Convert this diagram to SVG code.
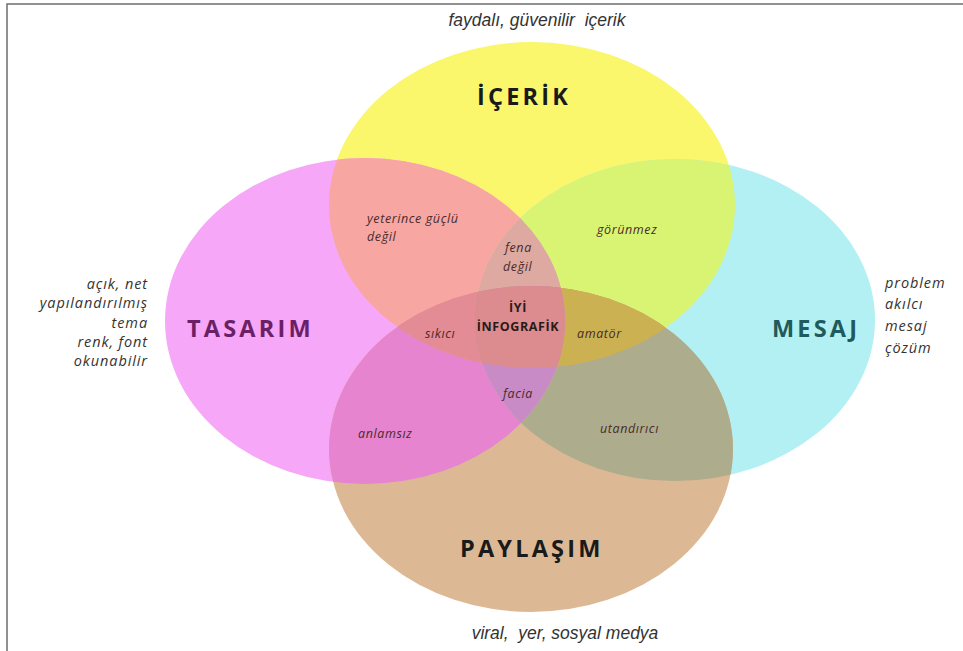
<svg xmlns="http://www.w3.org/2000/svg" xmlns:xlink="http://www.w3.org/1999/xlink" width="963" height="651" viewBox="0 0 963 651">
<style>
.title{font-family:"Open Sans","DejaVu Sans",sans-serif;font-weight:700;font-size:23.5px;letter-spacing:3.2px}
.side{font-family:"Open Sans","DejaVu Sans",sans-serif;font-style:italic;font-size:14.5px;letter-spacing:0.9px;fill:#333}
.desc{font-family:"Liberation Sans","Arial",sans-serif;font-style:italic;font-size:17.5px;fill:#333;white-space:pre}
.inner{font-family:"Open Sans","DejaVu Sans",sans-serif;font-style:italic;font-size:12.5px;letter-spacing:0.6px;fill:#4a2a2a}
.core{font-family:"Open Sans","DejaVu Sans",sans-serif;font-weight:700;font-size:12.5px;fill:#2a1a1a;letter-spacing:0.6px}
</style>
<defs>
<ellipse id="eY" cx="532" cy="205" rx="203" ry="163"/>
<ellipse id="eP" cx="365" cy="321" rx="200" ry="163"/>
<ellipse id="eC" cx="675" cy="320" rx="200" ry="161"/>
<ellipse id="eB" cx="531" cy="449" rx="202" ry="163"/>
<clipPath id="cY"><use xlink:href="#eY"/></clipPath>
<clipPath id="cP"><use xlink:href="#eP"/></clipPath>
<clipPath id="cC"><use xlink:href="#eC"/></clipPath>
<clipPath id="cB"><use xlink:href="#eB"/></clipPath>
</defs>
<rect width="963" height="651" fill="#ffffff"/>
<path d="M7 651 V4 H963" fill="none" stroke="#6e6e6e" stroke-width="1.5"/>

<g id="icerik">
<use xlink:href="#eY" fill="#faf76c"/>
</g>
<g id="tasarim">
<use xlink:href="#eP" fill="#f7a7f7"/>
</g>
<g id="mesaj">
<use xlink:href="#eC" fill="#b2f0f3"/>
</g>
<g id="paylasim">
<use xlink:href="#eB" fill="#ddb894"/>
</g>

<g id="overlaps">
<g clip-path="url(#cP)"><use xlink:href="#eY" fill="#f8a6a2"/></g>
<g clip-path="url(#cC)"><use xlink:href="#eY" fill="#d9f472"/></g>
<g clip-path="url(#cP)"><use xlink:href="#eB" fill="#e684cf"/></g>
<g clip-path="url(#cC)"><use xlink:href="#eB" fill="#adad8d"/></g>
<g clip-path="url(#cP)"><use xlink:href="#eC" fill="#d8a8c8"/></g>
<g clip-path="url(#cY)"><use xlink:href="#eB" fill="#e0a07a"/></g>
<g clip-path="url(#cP)"><g clip-path="url(#cY)"><use xlink:href="#eC" fill="#dea9a0"/></g></g>
<g clip-path="url(#cP)"><g clip-path="url(#cY)"><use xlink:href="#eB" fill="#e38c96"/></g></g>
<g clip-path="url(#cY)"><g clip-path="url(#cC)"><use xlink:href="#eB" fill="#cbb152"/></g></g>
<g clip-path="url(#cP)"><g clip-path="url(#cC)"><use xlink:href="#eB" fill="#c98bc6"/></g></g>
<g clip-path="url(#cP)"><g clip-path="url(#cY)"><g clip-path="url(#cC)"><use xlink:href="#eB" fill="#dc8b8e"/></g></g></g>
</g>

<g id="labels-icerik">
<text class="title" x="477" y="105" font-size="21" letter-spacing="3.8" fill="#1a1a1a">İÇERİK</text>
<text class="desc" x="537" y="26" text-anchor="middle">faydalı, güvenilir  içerik</text>
</g>
<g id="labels-tasarim">
<text class="title" x="187" y="337" fill="#6a1f66">TASARIM</text>
<g class="side" text-anchor="end">
<text x="148" y="289">açık, net</text>
<text x="148" y="308">yapılandırılmış</text>
<text x="148" y="328">tema</text>
<text x="148" y="347">renk, font</text>
<text x="148" y="366">okunabilir</text>
</g>
</g>
<g id="labels-mesaj">
<text class="title" x="772" y="337" fill="#1f5a5c">MESAJ</text>
<g class="side">
<text x="885" y="288">problem</text>
<text x="885" y="309">akılcı</text>
<text x="885" y="331">mesaj</text>
<text x="885" y="353">çözüm</text>
</g>
</g>
<g id="labels-paylasim">
<text class="title" x="460" y="557" fill="#1a1a1a">PAYLAŞIM</text>
<text class="desc" x="565" y="639" text-anchor="middle">viral,  yer, sosyal medya</text>
</g>
<g id="labels-overlaps">
<text class="inner" x="367" y="223">yeterince güçlü</text>
<text class="inner" x="367" y="241">değil</text>
<text class="inner" x="505" y="252">fena</text>
<text class="inner" x="503" y="271">değil</text>
<text class="inner" x="597" y="234">görünmez</text>
<text class="core" x="518" y="312" text-anchor="middle">İYİ</text>
<text class="core" x="518" y="331" text-anchor="middle">İNFOGRAFİK</text>
<text class="inner" x="425" y="338">sıkıcı</text>
<text class="inner" x="577" y="338">amatör</text>
<text class="inner" x="503" y="398">facia</text>
<text class="inner" x="358" y="438">anlamsız</text>
<text class="inner" x="600" y="433">utandırıcı</text>
</g>
</svg>
